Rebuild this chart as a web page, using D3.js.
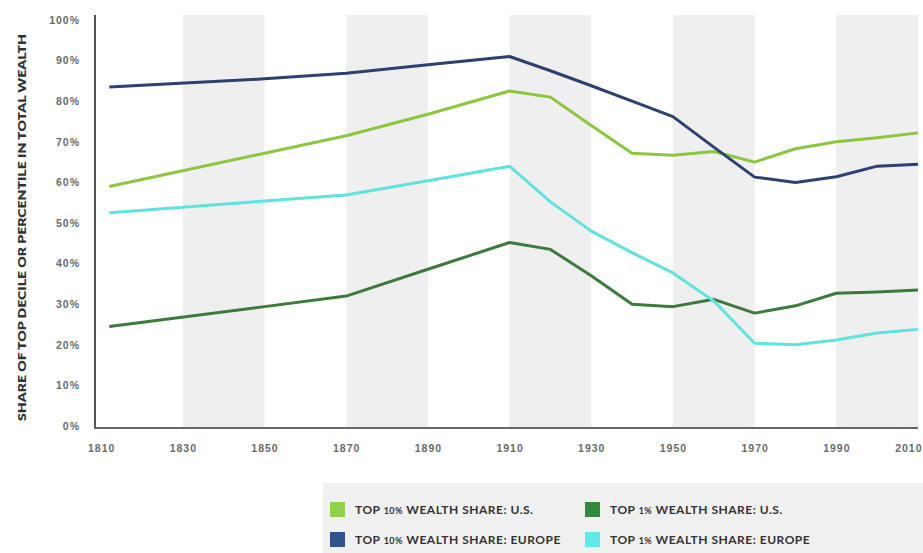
<!DOCTYPE html>
<html>
<head>
<meta charset="utf-8">
<script src="https://cdn.jsdelivr.net/npm/d3@7"></script>
<style>
  body { margin: 0; background: #fff; }
  svg { display: block; font-family: Lato, "Open Sans", sans-serif; }
  .tick text { fill: #6a6a6a; font-size: 10.5px; letter-spacing: 1px; font-weight: 600; }
  .legend text { font-size: 12px; font-weight: 700; fill: #333; letter-spacing: 0.5px; }
</style>
</head>
<body>
<div id="chart"></div>
<script>
// years the four series are read at
const years = [1812, 1850, 1870, 1890, 1910, 1920, 1930, 1940, 1950, 1960, 1970, 1980, 1990, 2000, 2010];

// shares in %
const usTop10     = [59.0, 67.2, 71.5, 76.8, 82.5, 81.0, 74.0, 67.2, 66.7, 67.6, 65.0, 68.3, 70.0, 71.0, 72.2];
const europeTop10 = [83.5, 85.5, 86.9, 89.0, 91.0, 87.5, 83.8, 80.0, 76.2, 68.7, 61.3, 60.0, 61.4, 64.0, 64.5];
const usTop1      = [24.5, 29.4, 32.0, 38.6, 45.2, 43.5, 37.0, 30.0, 29.4, 31.2, 27.8, 29.6, 32.7, 33.0, 33.5];
const europeTop1  = [52.5, 55.4, 56.9, 60.4, 64.0, 55.2, 48.0, 42.7, 37.7, 30.8, 20.4, 20.0, 21.2, 22.9, 23.8];

const xTicks = [1810, 1830, 1850, 1870, 1890, 1910, 1930, 1950, 1970, 1990, 2010];
const yTicks = [0, 10, 20, 30, 40, 50, 60, 70, 80, 90, 100];
const bandStarts = [1830, 1870, 1910, 1950, 1990];

const series = [
  { key: "us10", name: ["TOP ", "10%", " WEALTH SHARE: U.S."], values: usTop10, line: "#8cc63e", swatch: "#8fd14c" },
  { key: "eu10", name: ["TOP ", "10%", " WEALTH SHARE: EUROPE"], values: europeTop10, line: "#2c4170", swatch: "#2e5290" },
  { key: "us1", name: ["TOP ", "1%", " WEALTH SHARE: U.S."], values: usTop1, line: "#3b7a3b", swatch: "#2f8a3a" },
  { key: "eu1", name: ["TOP ", "1%", " WEALTH SHARE: EUROPE"], values: europeTop1, line: "#5ee3df", swatch: "#62e8e8" }
];

const width = 923, height = 553;
const svg = d3.select("#chart").append("svg")
    .attr("width", width)
    .attr("height", height);

let x = d3.scaleLinear()
    .domain([1808.5, 2010])
    .range([95, 918]);

let y = d3.scaleLinear()
    .domain([0, 100])
    .range([426, 20]);

const plotTop = 15, plotBottom = 428;

// alternating grey bands
svg.append("g")
  .selectAll("rect")
  .data(bandStarts)
  .enter().append("rect")
    .attr("x", d => x(d))
    .attr("width", d => x(d + 20) - x(d))
    .attr("y", plotTop)
    .attr("height", plotBottom - plotTop)
    .attr("fill", "#efefef");

// axes (labels only, lines drawn by hand below)
svg.append("g")
    .attr("transform", "translate(0," + plotBottom + ")")
    .call(d3.axisBottom(x).tickValues(xTicks).tickSize(0).tickPadding(17).tickFormat(d3.format("d")))
    .call(g => g.select(".domain").remove())
    .call(g => g.selectAll(".tick text").filter(d => d === 2010).attr("text-anchor", "end").attr("x", 4));

svg.append("g")
    .attr("transform", "translate(95,0)")
    .call(d3.axisLeft(y).tickValues(yTicks).tickSize(0).tickPadding(15).tickFormat(d => d + "%"))
    .call(g => g.select(".domain").remove());

svg.append("line")
    .attr("x1", 95).attr("x2", 95)
    .attr("y1", plotTop).attr("y2", plotBottom)
    .attr("stroke", "#555").attr("stroke-width", 2);

svg.append("line")
    .attr("x1", 94).attr("x2", 918)
    .attr("y1", plotBottom).attr("y2", plotBottom)
    .attr("stroke", "#666").attr("stroke-width", 2);

// y title
svg.append("text")
    .attr("transform", "translate(26," + ((plotTop + plotBottom) / 2 + 6) + ") rotate(-90)")
    .attr("text-anchor", "middle")
    .attr("textLength", 387)
    .attr("lengthAdjust", "spacingAndGlyphs")
    .style("font-size", "10.5px")
    .style("font-weight", 800)
    .style("fill", "#333")
    .text("SHARE OF TOP DECILE OR PERCENTILE IN TOTAL WEALTH");

// lines
let line = d3.line()
    .x((d, i) => x(years[i]))
    .y(d => y(d));

svg.append("g")
  .selectAll("path")
  .data(series)
  .enter().append("path")
    .attr("d", d => line(d.values))
    .attr("fill", "none")
    .attr("stroke", d => d.line)
    .attr("stroke-width", 3)
    .attr("stroke-linejoin", "round");

// legend
let legend = svg.append("g").attr("class", "legend");

legend.append("rect")
    .attr("x", 323).attr("y", 483)
    .attr("width", width - 323).attr("height", height - 483)
    .attr("fill", "#f0f0f0");

const legendPos = [[330, 502], [330, 532], [585, 502], [585, 532]];
const legendOrder = ["us10", "eu10", "us1", "eu1"];

let items = legend.selectAll("g.item")
  .data(legendOrder.map(k => series.find(s => s.key === k)))
  .enter().append("g")
    .attr("class", "item")
    .attr("transform", (d, i) => "translate(" + legendPos[i][0] + "," + legendPos[i][1] + ")");

items.append("rect")
    .attr("width", 15).attr("height", 15)
    .attr("fill", d => d.swatch);

let labels = items.append("text")
    .attr("x", 25)
    .attr("y", 12);

labels.each(function(d) {
  let t = d3.select(this);
  t.append("tspan").text(d.name[0]);
  t.append("tspan").style("font-size", "9px").text(d.name[1]);
  t.append("tspan").text(d.name[2]);
});
</script>
</body>
</html>
